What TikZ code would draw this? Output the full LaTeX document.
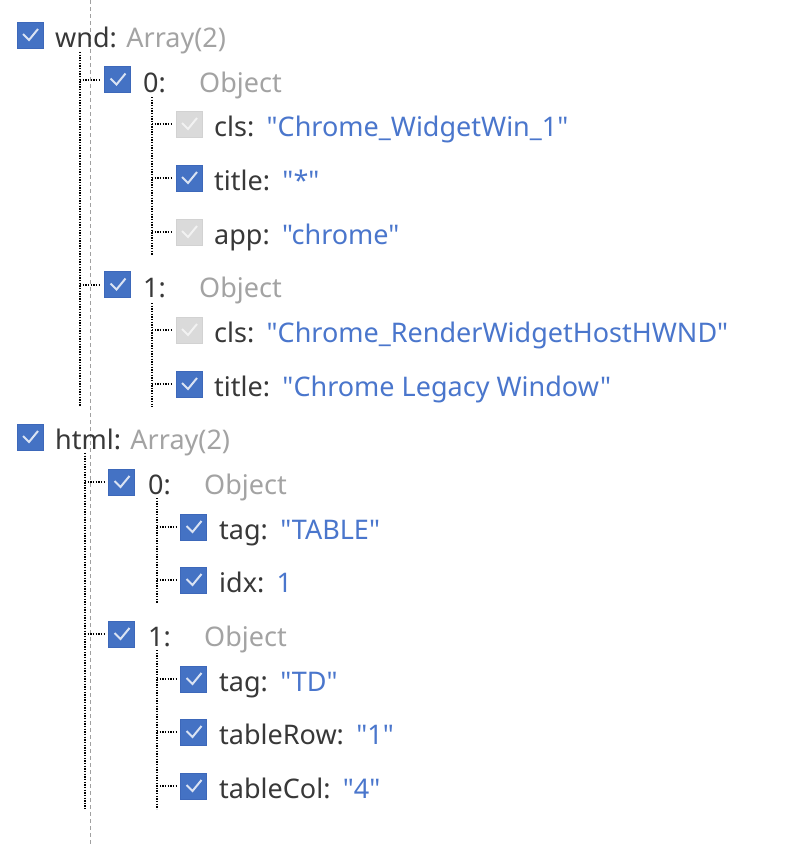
\documentclass[tikz,border=0pt]{standalone}
\usepackage{fontspec}
\setmainfont{Noto Sans}[Ligatures=TeXOff]
\usetikzlibrary{calc}
\definecolor{cbblue}{HTML}{4472C4}
\definecolor{cbblueedge}{HTML}{3D68BA}
\definecolor{cbgray}{HTML}{DADADA}
\definecolor{cbgrayedge}{HTML}{D2D2D2}
\definecolor{keyc}{HTML}{383838}
\definecolor{typec}{HTML}{A3A3A3}
\definecolor{valc}{HTML}{4A76CC}
\definecolor{guidec}{HTML}{A0A0A0}
\tikzset{
  cbon/.style={draw=cbblueedge, fill=cbblue, minimum size=26pt, inner sep=0pt, line width=0.6pt,
    path picture={\draw[draw=white!80!cbblue, line width=2pt]
      ($(path picture bounding box.center)+(-7,-1)$) -- ++(6,6) -- ++(9,-11);}},
  cboff/.style={draw=cbgrayedge, fill=cbgray, minimum size=26pt, inner sep=0pt, line width=0.6pt,
    path picture={\draw[draw=white!65!cbgray, line width=2pt]
      ($(path picture bounding box.center)+(-7,-1)$) -- ++(6,6) -- ++(9,-11);}},
  txt/.style={anchor=base west, inner sep=0pt, font=\fontsize{27}{31}\selectfont},
  keyt/.style={txt, text=keyc},
  typet/.style={txt, text=typec},
  valt/.style={txt, text=valc},
  treeline/.style={draw=black, line width=2pt, dash pattern=on 1.35pt off 1.3pt},
  guideline/.style={draw=guidec, line width=0.7pt, dash pattern=on 4pt off 3pt},
}
\newcommand\qq[1]{\symbol{34}#1\symbol{34}}
\newcommand\valnode[3]{\node[valt] (#1) at ($(#2.base east)+(12,0)$) {#3};}
\begin{document}
\begin{tikzpicture}[x=1pt, y=-1pt]
\useasboundingbox (0,0) rectangle (802,846);
\fill[white] (0,0) rectangle (802,846);
% guide line
\coordinate (gtop) at (90.5,0);
\coordinate (gbot) at (90.5,846);
\draw[guideline] (gtop) -- (gbot);

% ---------- wnd ----------
\node[cbon] (wnd) at (30,35) {};
\node[keyt] (wndk) at (55,47) {wnd:};
\node[typet] (wndt) at ($(wndk.base east)+(9,0)$) {Array(2)};

\node[cbon] (w0) at (117.5,79.5) {};
\node[keyt] (w0k) at (143,92) {0:};
\node[typet] (w0t) at (199,92) {Object};

\node[cboff] (w0cls) at (189,124) {};
\node[keyt] (w0clsk) at (214,136) {cls:};
\valnode{w0clsv}{w0clsk}{\qq{Chrome\_WidgetWin\_1}}

\node[cbon] (w0title) at (189,178) {};
\node[keyt] (w0titlek) at (214,190) {title:};
\valnode{w0titlev}{w0titlek}{\qq{*}}

\node[cboff] (w0app) at (189,232) {};
\node[keyt] (w0appk) at (214,244) {app:};
\valnode{w0appv}{w0appk}{\qq{chrome}}

\node[cbon] (w1) at (117.5,284.5) {};
\node[keyt] (w1k) at (143,297) {1:};
\node[typet] (w1t) at (199,297) {Object};

\node[cboff] (w1cls) at (189,330) {};
\node[keyt] (w1clsk) at (214,342) {cls:};
\valnode{w1clsv}{w1clsk}{\qq{Chrome\_RenderWidgetHostHWND}}

\node[cbon] (w1title) at (189,384) {};
\node[keyt] (w1titlek) at (214,396) {title:};
\valnode{w1titlev}{w1titlek}{\qq{Chrome Legacy Window}}

% ---------- html ----------
\node[cbon] (html) at (30,437) {};
\node[keyt] (htmlk) at (55,449) {html:};
\node[typet] (htmlt) at ($(htmlk.base east)+(9,0)$) {Array(2)};

\node[cbon] (h0) at (121.5,482) {};
\node[keyt] (h0k) at (148,494) {0:};
\node[typet] (h0t) at (204,494) {Object};

\node[cbon] (h0tag) at (193.5,527) {};
\node[keyt] (h0tagk) at (219,539) {tag:};
\valnode{h0tagv}{h0tagk}{\qq{TABLE}}

\node[cbon] (h0idx) at (193.5,580) {};
\node[keyt] (h0idxk) at (219,592) {idx:};
\valnode{h0idxv}{h0idxk}{1}

\node[cbon] (h1) at (121.5,634) {};
\node[keyt] (h1k) at (148,646) {1:};
\node[typet] (h1t) at (204,646) {Object};

\node[cbon] (h1tag) at (193.5,679) {};
\node[keyt] (h1tagk) at (219,691) {tag:};
\valnode{h1tagv}{h1tagk}{\qq{TD}}

\node[cbon] (h1row) at (193.5,732) {};
\node[keyt] (h1rowk) at (219,744) {tableRow:};
\valnode{h1rowv}{h1rowk}{\qq{1}}

\node[cbon] (h1col) at (193.5,786) {};
\node[keyt] (h1colk) at (219,798) {tableCol:};
\valnode{h1colv}{h1colk}{\qq{4}}

% ---------- tree lines ----------
\coordinate (wa) at (80,52);   \coordinate (wb) at (80,407);
\coordinate (w0a) at (152,97); \coordinate (w0b) at (152,255);
\coordinate (w1a) at (152,303);\coordinate (w1b) at (152,407);
\coordinate (ha) at (85,453);  \coordinate (hb) at (85,809);
\coordinate (h0a) at (157,498);\coordinate (h0b) at (157,603);
\coordinate (h1a) at (157,650);\coordinate (h1b) at (157,809);

\draw[treeline] (wa) -- (wb);
\draw[treeline] (w0a) -- (w0b);
\draw[treeline] (w1a) -- (w1b);
\draw[treeline] (ha) -- (hb);
\draw[treeline] (h0a) -- (h0b);
\draw[treeline] (h1a) -- (h1b);

\foreach \v/\n in {wa/w0, wa/w1, w0a/w0cls, w0a/w0title, w0a/w0app, w1a/w1cls, w1a/w1title,
                   ha/h0, ha/h1, h0a/h0tag, h0a/h0idx, h1a/h1tag, h1a/h1row, h1a/h1col}
  \draw[treeline] (\v |- \n) -- ($(\n.west)+(-4,0)$);
\end{tikzpicture}
\end{document}
